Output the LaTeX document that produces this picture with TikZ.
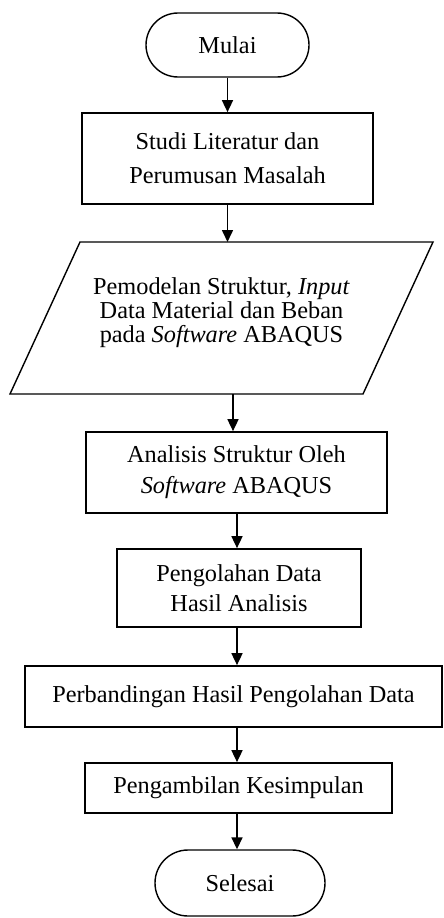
\documentclass[tikz,border=0pt]{standalone}
\usepackage{fontspec}
\setmainfont{Liberation Serif}
\usetikzlibrary{shapes.misc,arrows.meta}
\begin{document}
\begin{tikzpicture}[x=1pt,y=-1pt,
  every node/.style={align=center, inner sep=0pt},
  txt/.style={font=\fontsize{24.3}{#1}\selectfont},
  proc/.style={draw, line width=1.7pt, rectangle},
  term/.style={draw, line width=1.4pt, rounded rectangle},
  arr/.style={line width=1.6pt, -{Triangle[length=12pt,width=11pt]}}]
\useasboundingbox (0,0) rectangle (444,918);

\node[term, txt=28, minimum width=163pt, minimum height=64pt] (mulai) at (227.5,45) {Mulai};
\node[proc, txt=34, minimum width=291pt, minimum height=91pt] (studi) at (227.5,158.5) {Studi Literatur dan\\Perumusan Masalah};

\coordinate (pTL) at (80,242);
\coordinate (pTR) at (433,242);
\coordinate (pBR) at (363,394);
\coordinate (pBL) at (10,394);
\draw[line width=1.4pt, line join=miter] (pTL) -- (pTR) -- (pBR) -- (pBL) -- cycle;
\node[txt=24] (model) at (221.5,313) {Pemodelan Struktur, \textit{Input}\\Data Material dan Beban\\pada \textit{Software} ABAQUS};

\node[proc, txt=31, minimum width=301pt, minimum height=81pt] (analisis) at (236.5,472.5) {Analisis Struktur Oleh\\\textit{Software} ABAQUS};
\node[proc, txt=30, minimum width=244pt, minimum height=78pt] (olah) at (239,588) {Pengolahan Data\\Hasil Analisis};
\node[proc, txt=28, minimum width=417pt, minimum height=61pt] (banding) at (233.5,696.5) {Perbandingan Hasil Pengolahan Data};
\node[proc, txt=28, minimum width=307pt, minimum height=50pt] (ambil) at (238.5,788) {Pengambilan Kesimpulan};
\node[term, txt=28, minimum width=170pt, minimum height=66pt] (selesai) at (240,883) {Selesai};

\coordinate (a3) at (233,394);
\coordinate (ax) at (237,0);
\draw[arr] (mulai.south) -- (studi.north);
\draw[arr] (studi.south) -- (studi.south |- pTL);
\draw[arr] (a3) -- (a3 |- analisis.north);
\draw[arr] (analisis.south -| ax) -- (olah.north -| ax);
\draw[arr] (olah.south -| ax) -- (banding.north -| ax);
\draw[arr] (banding.south -| ax) -- (ambil.north -| ax);
\draw[arr] (ambil.south -| ax) -- (selesai.north -| ax);
\end{tikzpicture}
\end{document}
